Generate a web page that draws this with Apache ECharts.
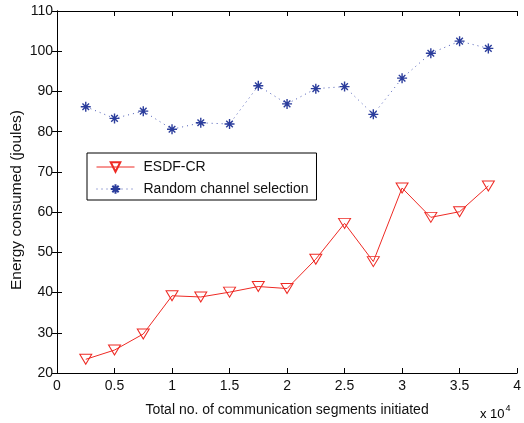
<!DOCTYPE html>
<html>
<head>
<meta charset="utf-8">
<script src="https://cdn.jsdelivr.net/npm/echarts@6/dist/echarts.min.js"></script>
<style>
  html, body { margin: 0; padding: 0; background: #fff; }
  #chart { width: 524px; height: 423px; }
</style>
</head>
<body>
<div id="chart"></div>
<script>
  // segments initiated (x 10^4)
  var segments = [0.25, 0.5, 0.75, 1, 1.25, 1.5, 1.75, 2, 2.25, 2.5, 2.75, 3, 3.25, 3.5, 3.75];
  var esdfCr = [23.4, 25.7, 29.7, 39.2, 38.9, 40.1, 41.5, 41, 48.3, 57.2, 47.7, 66, 58.7, 60.1, 66.5];
  var randomSel = [86.2, 83.3, 85.1, 80.6, 82.2, 81.9, 91.4, 86.9, 90.7, 91.2, 84.3, 93.3, 99.5, 102.5, 100.7];

  var FONT = 'Liberation Sans';
  var starPath = 'path://M5,0 L5,10 M0,5 L10,5 M1.7,1.7 L8.3,8.3 M1.7,8.3 L8.3,1.7';

  function pairs(xs, ys) {
    return xs.map(function (x, i) { return [x, ys[i]]; });
  }

  var chart = echarts.init(document.getElementById('chart'), null, { renderer: 'canvas' });

  var axisCommon = {
    axisLine: { show: true, lineStyle: { color: '#000', width: 1 } },
    axisTick: { show: true, inside: true, length: 5, lineStyle: { color: '#000' } },
    splitLine: { show: false }
  };

  var option = {
    animation: false,
    textStyle: { fontFamily: FONT },
    grid: { left: 57, top: 11, width: 461, height: 362 },
    legend: {
      left: 87, top: 153,
      orient: 'vertical',
      backgroundColor: '#fff',
      borderColor: '#000',
      borderWidth: 1,
      borderRadius: 0,
      padding: [7, 8, 4, 9],
      itemWidth: 38,
      itemHeight: 12,
      itemGap: 8,
      lineStyle: { width: 1 },
      textStyle: { fontFamily: FONT, fontSize: 14, color: '#111', padding: [0, 0, 0, 4] },
      data: ['ESDF-CR', 'Random channel selection']
    },
    xAxis: [
      Object.assign({
        type: 'value', min: 0, max: 4, interval: 0.5,
        name: 'Total no. of communication segments initiated',
        nameLocation: 'middle', nameGap: 30,
        nameTextStyle: { fontFamily: FONT, fontSize: 14, color: '#111' },
        axisLabel: { fontFamily: FONT, fontSize: 14, color: '#111', margin: 6 }
      }, axisCommon),
      Object.assign({
        type: 'value', min: 0, max: 4, interval: 0.5, position: 'top',
        axisLabel: { show: false }
      }, axisCommon)
    ],
    yAxis: [
      Object.assign({
        type: 'value', min: 20, max: 110, interval: 10,
        axisLabel: { fontFamily: FONT, fontSize: 14, color: '#111', margin: 4 }
      }, axisCommon),
      Object.assign({
        type: 'value', min: 20, max: 110, interval: 10, position: 'right',
        axisLabel: { show: false }
      }, axisCommon)
    ],
    graphic: [
      {
        type: 'text',
        x: 16.5, y: 200,
        rotation: Math.PI / 2,
        style: {
          text: 'Energy consumed (joules)',
          fontFamily: FONT, fontSize: 15.5, fill: '#111',
          align: 'center', verticalAlign: 'middle'
        }
      },
      {
        type: 'text',
        left: 480, top: 404,
        style: {
          text: '{a|x 10}{b|4}',
          rich: {
            a: { fontFamily: FONT, fontSize: 13, color: '#111', verticalAlign: 'bottom', lineHeight: 17 },
            b: { fontFamily: FONT, fontSize: 9, color: '#111', verticalAlign: 'top', lineHeight: 17, padding: [0, 0, 8, 1] }
          }
        }
      }
    ],
    series: [
      {
        name: 'ESDF-CR',
        type: 'line',
        data: pairs(segments, esdfCr),
        symbol: 'triangle',
        symbolRotate: 180,
        symbolSize: [12, 10],
        lineStyle: { color: '#ee2a24', width: 1 },
        itemStyle: { color: 'rgba(255,255,255,0)', borderColor: '#ee2a24', borderWidth: 1 }
      },
      {
        name: 'Random channel selection',
        type: 'line',
        data: pairs(segments, randomSel),
        symbol: starPath,
        symbolSize: 10,
        lineStyle: { color: '#4a5ab5', width: 1, type: [1, 4] },
        itemStyle: { color: '#2b3d9c', borderColor: '#2b3d9c', borderWidth: 1.4 }
      }
    ]
  };

  chart.setOption(option);
</script>
</body>
</html>
